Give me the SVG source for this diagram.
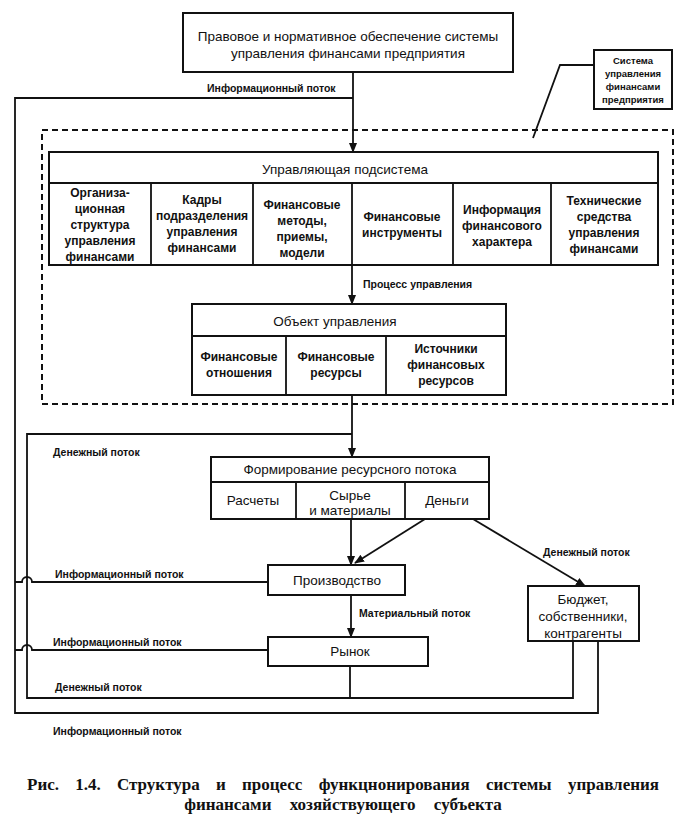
<svg xmlns="http://www.w3.org/2000/svg" width="696" height="824" viewBox="0 0 696 824">
<style>
.bx{fill:#fff;stroke:#111;stroke-width:2}
.ln{fill:none;stroke:#111;stroke-width:1.8}
.ds{fill:none;stroke:#111;stroke-width:2;stroke-dasharray:6,4}
.tb{font-family:"Liberation Sans",Arial,sans-serif;font-size:13.5px;fill:#111;text-anchor:middle}
.c{font-family:"Liberation Sans",Arial,sans-serif;font-size:12px;font-weight:bold;fill:#111;text-anchor:middle}
.l{font-family:"Liberation Sans",Arial,sans-serif;font-size:10.5px;font-weight:bold;fill:#111}
.s{font-family:"Liberation Sans",Arial,sans-serif;font-size:9.5px;font-weight:bold;fill:#111;text-anchor:middle}
.cap{font-family:"Liberation Serif","Times New Roman",serif;font-size:17px;font-weight:bold;fill:#111;text-anchor:middle}
</style>
<defs>
<marker id="ah" markerWidth="10" markerHeight="10" refX="9" refY="5" orient="auto" markerUnits="userSpaceOnUse">
<path d="M0,1 L10,5 L0,9 Z" fill="#111"/>
</marker>
</defs>
<rect width="696" height="824" fill="#fff"/>

<g id="system-boundary">
<rect class="ds" x="42" y="130" width="631" height="274"/>
</g>

<g id="connectors">
<path class="ln" d="M598,642 V713 H15 V98 H353"/>
<path class="ln" d="M353,72 V152" marker-end="url(#ah)"/>
<path class="ln" d="M573,642 V698 H27 V434 H352"/>
<path class="ln" d="M350,666 V698"/>
<path class="ln" d="M352,265 V304" marker-end="url(#ah)"/>
<path class="ln" d="M352,395 V457" marker-end="url(#ah)"/>
<path class="ln" d="M351,519 V565" marker-end="url(#ah)"/>
<path class="ln" d="M425,519 L355,563" marker-end="url(#ah)"/>
<path class="ln" d="M473,519 L585,586" marker-end="url(#ah)"/>
<path class="ln" d="M351,595 V637" marker-end="url(#ah)"/>
<path class="ln" d="M15,582 H22 A5,5 0 0 1 32,582 H268"/>
<path class="ln" d="M15,650 H22 A5,5 0 0 1 32,650 H268"/>
<path class="ln" d="M594,65 H560 L533,138"/>
</g>

<g id="labels">
<text class="l" x="207" y="92">Информационный поток</text>
<text class="l" x="363" y="288">Процесс управления</text>
<text class="l" x="53" y="456">Денежный поток</text>
<text class="l" x="543" y="556">Денежный поток</text>
<text class="l" x="55" y="578">Информационный поток</text>
<text class="l" x="359" y="617">Материальный поток</text>
<text class="l" x="53" y="646">Информационный поток</text>
<text class="l" x="55" y="691">Денежный поток</text>
<text class="l" x="53" y="735">Информационный поток</text>
</g>

<g id="legal">
<rect class="bx" x="183" y="13" width="330" height="59"/>
<text class="tb" x="348" y="41">Правовое и нормативное обеспечение системы</text>
<text class="tb" x="348" y="58">управления финансами предприятия</text>
</g>

<g id="callout">
<rect class="bx" x="594" y="50" width="78" height="59"/>
<text class="s" x="633" y="64">Система</text>
<text class="s" x="633" y="77">управления</text>
<text class="s" x="633" y="90">финансами</text>
<text class="s" x="633" y="103">предприятия</text>
</g>

<g id="control-subsystem">
<rect class="bx" x="49" y="152" width="609" height="113"/>
<path class="ln" d="M49,183 H658 M151,183 V265 M253,183 V265 M352,183 V265 M453,183 V265 M551,183 V265"/>
<text class="tb" x="345" y="174">Управляющая подсистема</text>
<text class="c" x="100" y="197">Организа-</text>
<text class="c" x="100" y="213">ционная</text>
<text class="c" x="100" y="229">структура</text>
<text class="c" x="100" y="245">управления</text>
<text class="c" x="100" y="261">финансами</text>
<text class="c" x="202" y="204">Кадры</text>
<text class="c" x="202" y="220">подразделения</text>
<text class="c" x="202" y="236">управления</text>
<text class="c" x="202" y="252">финансами</text>
<text class="c" x="302" y="209">Финансовые</text>
<text class="c" x="302" y="225">методы,</text>
<text class="c" x="302" y="241">приемы,</text>
<text class="c" x="302" y="257">модели</text>
<text class="c" x="402" y="221">Финансовые</text>
<text class="c" x="402" y="237">инструменты</text>
<text class="c" x="502" y="214">Информация</text>
<text class="c" x="502" y="230">финансового</text>
<text class="c" x="502" y="246">характера</text>
<text class="c" x="604" y="205">Технические</text>
<text class="c" x="604" y="221">средства</text>
<text class="c" x="604" y="237">управления</text>
<text class="c" x="604" y="253">финансами</text>
</g>

<g id="control-object">
<rect class="bx" x="192" y="304" width="314" height="91"/>
<path class="ln" d="M192,336 H506 M286,336 V395 M386,336 V395"/>
<text class="tb" x="335" y="326">Объект управления</text>
<text class="c" x="239" y="361">Финансовые</text>
<text class="c" x="239" y="377">отношения</text>
<text class="c" x="336" y="361">Финансовые</text>
<text class="c" x="336" y="377">ресурсы</text>
<text class="c" x="446" y="353">Источники</text>
<text class="c" x="446" y="369">финансовых</text>
<text class="c" x="446" y="385">ресурсов</text>
</g>

<g id="resource-flow">
<rect class="bx" x="211" y="457" width="278" height="62"/>
<path class="ln" d="M211,482 H489 M296,482 V519 M405,482 V519"/>
<text class="tb" x="350" y="474">Формирование ресурсного потока</text>
<text class="tb" x="253" y="505">Расчеты</text>
<text class="tb" x="350" y="500">Сырье</text>
<text class="tb" x="350" y="515">и материалы</text>
<text class="tb" x="447" y="505">Деньги</text>
</g>

<g id="production">
<rect class="bx" x="268" y="565" width="137" height="30"/>
<text class="tb" x="337" y="585">Производство</text>
</g>

<g id="market">
<rect class="bx" x="268" y="637" width="160" height="29"/>
<text class="tb" x="350" y="656">Рынок</text>
</g>

<g id="budget">
<rect class="bx" x="528" y="586" width="111" height="55"/>
<text class="tb" x="583" y="604">Бюджет,</text>
<text class="tb" x="583" y="621">собственники,</text>
<text class="tb" x="583" y="638">контрагенты</text>
</g>

<g id="caption">
<text class="cap" x="343" y="790" word-spacing="12">Рис. 1.4. Структура и процесс функцнонирования системы управления</text>
<text class="cap" x="343" y="810" word-spacing="14">финансами хозяйствующего субъекта</text>
</g>
</svg>
